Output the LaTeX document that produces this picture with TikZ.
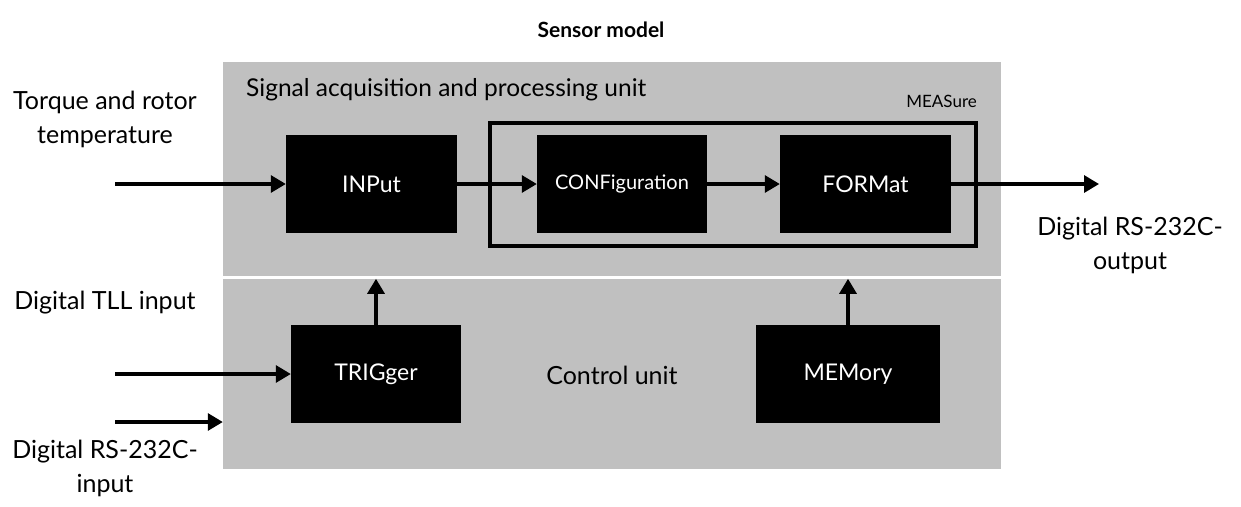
\documentclass[tikz,border=0pt]{standalone}
\usepackage{fontspec}
\setmainfont{Lato}
\usetikzlibrary{shapes.geometric, arrows.meta, positioning}
\usepackage{xcolor}
\definecolor{panelgray}{RGB}{192,192,192}

\begin{document}
\begin{tikzpicture}[x=1pt, y=-1pt,
    panel/.style={rectangle, fill=panelgray, minimum width=778pt, inner sep=0pt},
    block/.style={rectangle, fill=black, text=white, minimum height=98pt, inner sep=0pt, font=\fontsize{23}{27}\selectfont},
    lbl/.style={align=center, inner sep=0pt, font=\fontsize{25}{34}\selectfont},
    flow/.style={-{Triangle[length=15pt, width=17pt]}, line width=3.2pt}]
    \useasboundingbox (0,0) rectangle (1241,506);

    % Nodes
    \node (title) [font=\bfseries\fontsize{21}{24}\selectfont] at (601,30) {Sensor model};
    \node (acq) [panel, minimum height=214pt] at (612,169) {};
    \node (ctrl) [panel, minimum height=190pt] at (612,374) {};
    \node (acqlbl) [lbl, anchor=west, font=\fontsize{24.5}{30}\selectfont] at (246,90) {Signal acquisition and processing unit};
    \node (meas) [rectangle, draw=black, line width=3.4pt, minimum width=486pt, minimum height=123pt] at (733,184.5) {};
    \node (measlbl) [lbl, anchor=east, font=\fontsize{17}{20}\selectfont] at (977,101) {MEASure};
    \node (input) [block, minimum width=171pt] at (371.5,184) {INPut};
    \node (config) [block, minimum width=170pt, font=\fontsize{20}{24}\selectfont] at (622,184) {CONFiguration};
    \node (format) [block, minimum width=171pt] at (865.5,184) {FORMat};
    \node (trigger) [block, minimum width=170pt] at (376,374) {TRIGger};
    \node (memory) [block, minimum width=184pt] at (848,374) {MEMory};
    \node (ctrllbl) [lbl] at (612,375) {Control unit};

    \node (torque) [lbl] at (105,119) {Torque and rotor\\temperature};
    \node (ttl) [lbl] at (105,303) {Digital TLL input};
    \node (rsin) [lbl] at (105,468) {Digital RS-232C-\\input};
    \node (rsout) [lbl] at (1130,245) {Digital RS-232C-\\output};

    \coordinate (torquein) at (115,184);
    \coordinate (ttlin) at (115,374);
    \coordinate (rsinstart) at (115,422);
    \coordinate (rsoutend) at (1099,184);

    % Arrows
    \draw[flow] (torquein) -- (input);
    \draw[flow] (input) -- (config);
    \draw[flow] (config) -- (format);
    \draw[flow] (format) -- (rsoutend);
    \draw[flow] (ttlin) -- (trigger);
    \draw[flow] (rsinstart) -- (rsinstart -| ctrl.west);
    \draw[flow] (trigger.north) -- (trigger.north |- ctrl.north);
    \draw[flow] (memory.north) -- (memory.north |- ctrl.north);
\end{tikzpicture}
\end{document}
